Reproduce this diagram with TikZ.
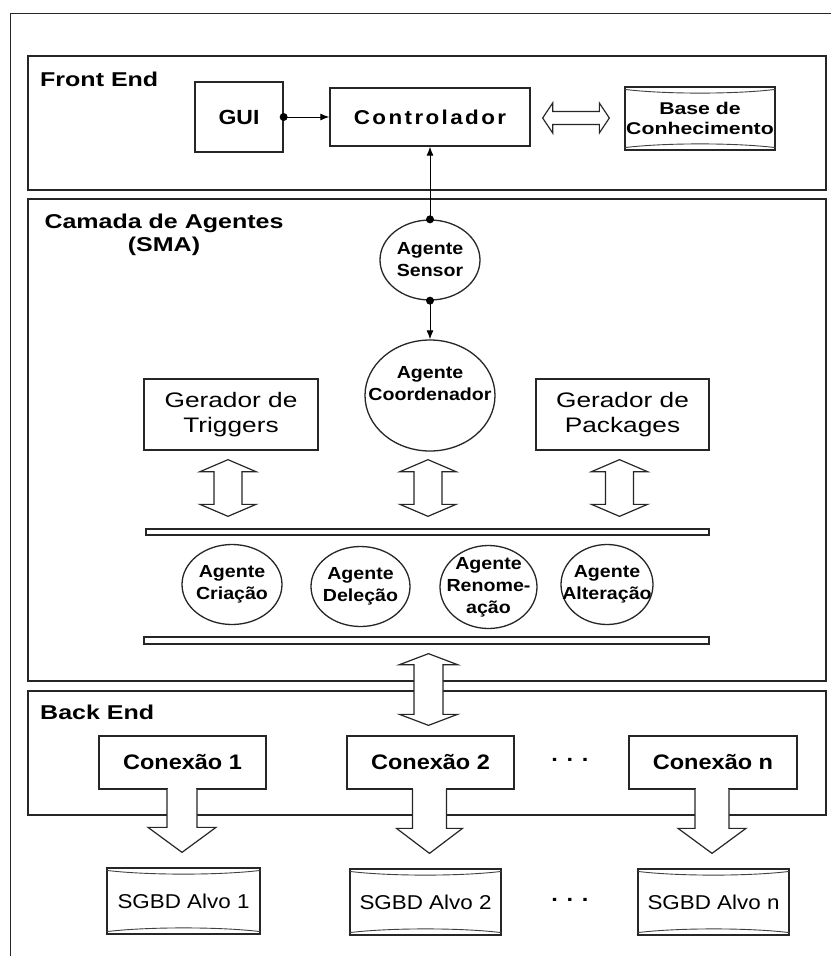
\documentclass[tikz,border=0pt]{standalone}
\usepackage{fontspec}
\setmainfont{Liberation Sans}
\newfontfamily\fs[FakeStretch=1.12]{Liberation Sans}
\newfontfamily\fw[FakeStretch=1.25]{Liberation Sans}
\newfontfamily\fc[FakeStretch=1.12,LetterSpace=12]{Liberation Sans}
\usetikzlibrary{shapes.geometric,arrows.meta,calc}
\tikzset{
  ln/.style={draw=black!85, line width=1.3pt},
  layer/.style={ln, rectangle, inner sep=0pt},
  box/.style={ln, rectangle, fill=white, inner sep=0pt, align=center},
  agent/.style={ln, ellipse, inner sep=0pt},
  hdr/.style={font=\fw\bfseries\fontsize{20}{23}\selectfont, inner sep=0pt, align=center},
  bold/.style={font=\fs\bfseries\fontsize{#1}{26}\selectfont},
  agtxt/.style={font=\fs\bfseries\fontsize{17.5}{22}\selectfont, align=center},
  reg/.style={font=\fw\fontsize{21}{25}\selectfont},
  sg/.style={font=\fs\fontsize{20}{24}\selectfont},
  hollow/.style={draw=black!85, line width=1.2pt, fill=white, line join=miter},
  conn/.style={draw=black, line width=1pt, -{Latex[length=9pt,width=7pt]}},
  bar/.style={ln, rectangle, inner sep=0pt, fill=white},
}
% vertical double hollow arrow: top tip, bottom tip, shaft half width, head half width, head length
\newcommand\udarrow[5]{%
  \filldraw[hollow] let \p1=(#1), \p2=(#2) in
   (\x1,\y1) -- ({\x1-#4pt},{\y1-#5pt}) -- ({\x1-#3pt},{\y1-#5pt})
   -- ({\x1-#3pt},{\y2+#5pt}) -- ({\x1-#4pt},{\y2+#5pt}) -- (\x1,\y2)
   -- ({\x1+#4pt},{\y2+#5pt}) -- ({\x1+#3pt},{\y2+#5pt})
   -- ({\x1+#3pt},{\y1-#5pt}) -- ({\x1+#4pt},{\y1-#5pt}) -- cycle;}
% horizontal double hollow arrow
\newcommand\lrarrow[5]{%
  \filldraw[hollow] let \p1=(#1), \p2=(#2) in
   (\x1,\y1) -- ({\x1+#5pt},{\y1+#4pt}) -- ({\x1+#5pt},{\y1+#3pt})
   -- ({\x2-#5pt},{\y1+#3pt}) -- ({\x2-#5pt},{\y1+#4pt}) -- (\x2,\y1)
   -- ({\x2-#5pt},{\y1-#4pt}) -- ({\x2-#5pt},{\y1-#3pt})
   -- ({\x1+#5pt},{\y1-#3pt}) -- ({\x1+#5pt},{\y1-#4pt}) -- cycle;}
% downward hollow arrow open at the top (leaving a box)
\newcommand\dnarrow[5]{%
  \fill[white] let \p1=(#1), \p2=(#2) in
   ({\x1-#3pt+0.7pt},{\y1+2pt}) rectangle ({\x1+#3pt-0.7pt},{\y2+#5pt});
  \filldraw[hollow] let \p1=(#1), \p2=(#2) in
   ({\x1-#3pt},{\y1+0.6pt}) -- ({\x1-#3pt},{\y2+#5pt}) -- ({\x1-#4pt},{\y2+#5pt})
   -- (\x1,\y2) -- ({\x1+#4pt},{\y2+#5pt}) -- ({\x1+#3pt},{\y2+#5pt})
   -- ({\x1+#3pt},{\y1+0.6pt});}
% drum rims
\newcommand\drum[1]{%
  \draw[draw=black!75, line width=0.9pt]
   ($(#1.north west)+(0,3)$) .. controls ($(#1.north west)+(40,8)$) and ($(#1.north east)+(-40,8)$) .. ($(#1.north east)+(0,3)$)
   ($(#1.south west)+(0,-3)$) .. controls ($(#1.south west)+(40,-8)$) and ($(#1.south east)+(-40,-8)$) .. ($(#1.south east)+(0,-3)$);}
\begin{document}
\begin{tikzpicture}[x=1pt,y=-1pt]
\useasboundingbox (0,0) rectangle (831,956);
\fill[white] (0,0) rectangle (831,956);
% outer frame
\coordinate (fr1) at (831,13);
\coordinate (fr2) at (10,13);
\coordinate (fr3) at (10,956);
\draw[draw=black!85, line width=1pt] (fr1) -- (fr2) -- (fr3);
% layers
\node[layer, minimum width=798pt, minimum height=134pt] (fe) at (427,123) {};
\node[layer, minimum width=798pt, minimum height=482pt] (sma) at (427,440) {};
\node[layer, minimum width=798pt, minimum height=124pt] (be) at (427,753) {};
\node[hdr, anchor=base west] (felbl) at (40,86.5) {Front End};
\node[hdr, anchor=base] (smalbl) at (164,251) {Camada de Agentes\\(SMA)};
\node[hdr, anchor=base west] (belbl) at (40,719) {Back End};
% front end
\node[box, bold=20.5, minimum width=88pt, minimum height=70pt] (gui) at (239,117) {GUI};
\node[box, font=\fc\bfseries\fontsize{20}{24}\selectfont, minimum width=200pt, minimum height=58pt] (ctrl) at (430,117) {Controlador};
\node[box, font=\fw\bfseries\fontsize{17}{20}\selectfont, minimum width=150pt, minimum height=63pt] (base) at (700,118.5) {Base de\\Conhecimento};
\drum{base}
\draw[conn] (gui.east) -- (ctrl.west);
\fill[black] (gui.east) circle[radius=4pt];
\lrarrow{$(ctrl.east)+(12,1)$}{$(base.west)+(-15,0)$}{6.5}{15}{10}
% agents layer
\node[agent, minimum width=100pt, minimum height=80pt,
  label={[agtxt, font=\fs\bfseries\fontsize{17.5}{22}\selectfont]center:Agente\\Sensor}] (sensor) at (430,260) {};
\node[agent, minimum width=130pt, minimum height=111pt] (coord) at (430,395.5) {};
\node[agtxt, font=\fs\bfseries\fontsize{17.5}{22}\selectfont] (coordtxt) at (430,384) {Agente\\Coordenador};
\draw[conn] (sensor.north) -- (ctrl.south);
\fill[black] (sensor.north) circle[radius=4pt];
\draw[conn] (sensor.south) -- (coord.north);
\fill[black] (sensor.south) circle[radius=4pt];
\node[box, reg, minimum width=174pt, minimum height=71pt] (gt) at (231,414.5) {Gerador de\\Triggers};
\node[box, reg, minimum width=173pt, minimum height=71pt] (gp) at (622.5,414.5) {Gerador de\\Packages};
\node[bar, minimum width=563pt, minimum height=6pt] (bus1) at (427.5,532) {};
\node[bar, minimum width=565pt, minimum height=7pt] (bus2) at (426.5,640.5) {};
\udarrow{$(gt.south)+(-3,9)$}{$(gt.south |- bus1.north)+(-3,-12)$}{14}{28}{12}
\udarrow{$(coord.south)+(-2,8)$}{$(coord.south |- bus1.north)+(-2,-12)$}{14}{28}{12}
\udarrow{$(gp.south)+(-3,9)$}{$(gp.south |- bus1.north)+(-3,-12)$}{14}{28}{12}
\node[agent, minimum width=100pt, minimum height=80pt, label={[agtxt]center:Agente\\Criação}] (acri) at (232,584.5) {};
\node[agent, minimum width=99pt, minimum height=80pt, label={[agtxt]center:Agente\\Deleção}] (adel) at (360.5,586.5) {};
\node[agent, minimum width=97pt, minimum height=83pt, label={[agtxt]center:Agente\\Renome-\\ação}] (aren) at (488.5,587) {};
\node[agent, minimum width=92pt, minimum height=80pt, label={[agtxt]center:Agente\\Alteração}] (aalt) at (607,584.5) {};
% back end
\node[box, bold=21, minimum width=167pt, minimum height=53pt] (c1) at (182.5,762.5) {Conexão 1};
\node[box, bold=21, minimum width=167pt, minimum height=53pt] (c2) at (430.5,762.5) {Conexão 2};
\node[box, bold=21, minimum width=168pt, minimum height=53pt] (cn) at (713,762.5) {Conexão n};
\node[bold=21] (dots1) at (570,760) {. . .};
\udarrow{$(c2.north |- bus2.south)+(-2,9)$}{$(c2.north)+(-2,-10)$}{14.5}{29}{11}
\node[box, sg, minimum width=153pt, minimum height=66pt] (s1) at (183.5,901) {SGBD Alvo 1};
\node[box, sg, minimum width=151pt, minimum height=66pt] (s2) at (425.5,902) {SGBD Alvo 2};
\node[box, sg, minimum width=151pt, minimum height=66pt] (sn) at (713.5,902) {SGBD Alvo n};
\drum{s1}\drum{s2}\drum{sn}
\node[bold=21] (dots2) at (570,900) {. . .};
\dnarrow{$(c1.south)+(-0.5,0)$}{$(c1.south |- s1.north)+(-0.5,-15)$}{15}{34}{25}
\dnarrow{$(c2.south)+(-1,0)$}{$(c2.south |- s2.north)+(-1,-15)$}{17}{33}{25}
\dnarrow{$(cn.south)+(-1,0)$}{$(cn.south |- sn.north)+(-1,-15)$}{17}{34}{25}
\end{tikzpicture}
\end{document}
